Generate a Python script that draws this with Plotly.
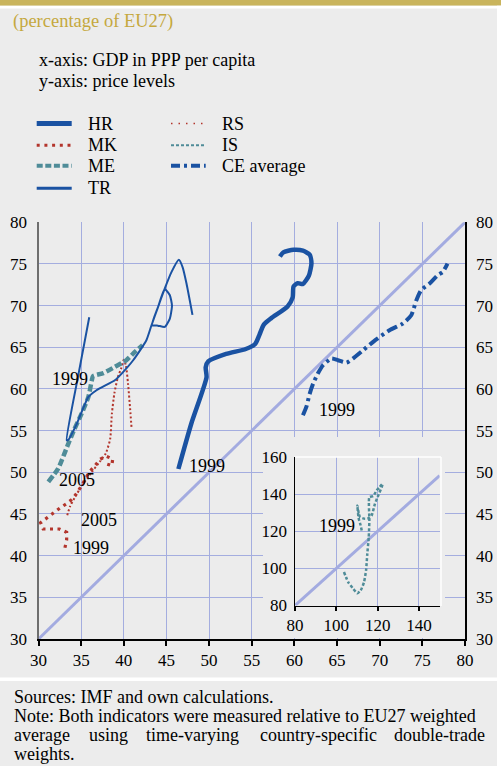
import plotly.graph_objects as go

W, H = 501, 766
FONT = "Liberation Serif, Tinos, Times New Roman, DejaVu Serif, serif"

# ---------------- data ----------------
diag_main = [30, 80]
diag_inset = [80, 150]

hr_x = [46.4, 47.9, 49.7, 49.6, 49.9, 52.0, 54.3, 55.4, 55.9, 56.4, 57.3, 59.2, 59.8, 59.9, 60.4, 61.0, 61.7, 62.0, 61.8, 61.0, 59.9, 58.7, 58.3]
hr_y = [50.4, 55.8, 61.4, 62.6, 63.3, 64.2, 64.8, 65.4, 66.5, 67.7, 68.5, 69.9, 71.0, 72.3, 72.7, 72.6, 73.6, 75.1, 76.1, 76.6, 76.7, 76.4, 75.9]

tr_x = [35.95, 34.6, 33.3, 33.5, 34.5, 35.85, 36.8, 38.95, 39.75, 41.1, 42.65, 43.25, 44.0, 44.8, 45.4, 45.65, 45.4, 44.8, 44.0, 43.3, 44.0, 44.8, 45.6, 46.45, 46.9, 47.35, 48.05]
tr_y = [68.6, 61.3, 53.85, 53.9, 55.85, 59.05, 59.85, 61.05, 61.85, 63.45, 65.85, 67.65, 69.8, 72.0, 71.25, 70.0, 68.45, 67.45, 67.6, 67.65, 69.8, 72.05, 74.05, 75.5, 74.6, 72.65, 68.9]

me_x = [31.15, 32.3, 33.5, 34.15, 35.05, 35.85, 36.25, 36.4, 37.6, 38.95, 40.3, 41.3, 42.2]
me_y = [48.85, 50.45, 53.45, 55.05, 57.05, 59.05, 61.05, 61.55, 61.9, 62.65, 63.45, 64.45, 65.25]

mk_x = [33.1, 33.3, 33.3, 32.45, 31.55, 30.55, 30.25, 31.05, 31.75, 32.5, 33.3, 34.0, 34.55, 35.2, 35.95, 36.6, 37.2, 37.9, 38.7, 38.6, 38.0]
mk_y = [40.95, 41.9, 42.8, 43.2, 43.2, 43.2, 43.95, 44.6, 45.15, 45.7, 46.25, 46.8, 47.6, 48.65, 50.05, 50.75, 51.55, 51.95, 51.6, 50.8, 51.0]

rs_x = [40.9, 40.75, 40.5, 40.25, 40.0, 39.7, 39.3, 38.9, 38.6, 38.4, 37.9, 37.2, 36.0, 34.9, 33.7, 33.3]
rs_y = [55.45, 57.5, 60.6, 62.8, 63.5, 62.5, 61.4, 59.5, 57.0, 54.0, 52.3, 51.3, 49.7, 48.1, 45.9, 44.6]

ce_x = [61.0, 61.4, 61.8, 62.2, 62.75, 63.35, 64.35, 65.1, 66.1, 66.85, 68.05, 69.6, 71.15, 72.7, 73.7, 74.3, 74.85, 75.85, 76.8, 77.4, 77.95]
ce_y = [56.85, 57.85, 59.45, 60.65, 61.85, 62.85, 63.65, 63.45, 63.15, 63.65, 64.65, 65.95, 67.05, 67.85, 68.85, 70.65, 71.85, 72.65, 73.65, 74.05, 75.05]

is_x = [112.3, 111.8, 110.8, 110.2, 110.9, 111.5, 113.9, 115.5, 117.1, 118.7, 120.3, 122.0, 122.4, 120.8, 119.5, 117.9, 116.0, 116.0, 115.7, 115.0, 114.4, 113.4, 111.8, 110.2, 108.2, 105.8, 103.7]
is_y = [120.4, 123.1, 127.0, 133.9, 129.5, 127.6, 126.7, 127.0, 128.5, 134.8, 139.3, 143.8, 145.6, 143.6, 142.0, 138.9, 138.4, 125.8, 116.8, 107.9, 98.9, 92.5, 88.1, 86.6, 89.0, 92.5, 98.0]

main_ticks = [30, 35, 40, 45, 50, 55, 60, 65, 70, 75, 80]
inset_xticks = [80, 100, 120, 140]
inset_yticks = [80, 100, 120, 140, 160]

# chart labels: (text, x, y, axes)
labels = [
    ("1999", 31.4, 61.2, "main"),
    ("1999", 47.35, 50.7, "main"),
    ("1999", 62.7, 57.45, "main"),
    ("2005", 32.2, 49.1, "main"),
    ("2005", 34.75, 44.3, "main"),
    ("1999", 33.8, 40.97, "main"),
    ("1999", 90.6, 123.1, "inset"),
]

# ---------------- styling ----------------
BG = "#ececec"
GRID = "#a4addf"
DIAG = "#a3abe0"
BLUE = "#1a52a2"
TEAL = "#4f8c98"
RED = "#b3352c"
GOLD_BAR = "#c9b45c"
GOLD_TXT = "#c5a83e"


def px(x):
    return x / W


def py(y):
    return 1 - y / H


fig = go.Figure()

fig.add_trace(go.Scatter(x=diag_main, y=diag_main, mode="lines",
                         line=dict(color=DIAG, width=3), xaxis="x", yaxis="y"))
fig.add_trace(go.Scatter(x=rs_x, y=rs_y, mode="lines",
                         line=dict(color=RED, width=2, dash="2px,2.2px", shape="spline", smoothing=0.6),
                         xaxis="x", yaxis="y"))
fig.add_trace(go.Scatter(x=mk_x, y=mk_y, mode="lines",
                         line=dict(color=RED, width=3.2, dash="3px,4.5px"),
                         xaxis="x", yaxis="y"))
fig.add_trace(go.Scatter(x=me_x, y=me_y, mode="lines",
                         line=dict(color=TEAL, width=4.5, dash="7px,3px", shape="spline", smoothing=0.6),
                         xaxis="x", yaxis="y"))
fig.add_trace(go.Scatter(x=tr_x, y=tr_y, mode="lines",
                         line=dict(color=BLUE, width=2, shape="spline", smoothing=0.5),
                         xaxis="x", yaxis="y"))
fig.add_trace(go.Scatter(x=hr_x, y=hr_y, mode="lines",
                         line=dict(color=BLUE, width=4.5, shape="spline", smoothing=0.6),
                         xaxis="x", yaxis="y"))
fig.add_trace(go.Scatter(x=ce_x, y=ce_y, mode="lines",
                         line=dict(color=BLUE, width=4, dash="11px,4px,3px,4px", shape="spline", smoothing=0.6),
                         xaxis="x", yaxis="y"))

fig.add_trace(go.Scatter(x=[None], y=[None], mode="lines", xaxis="x", yaxis="y2"))
fig.add_trace(go.Scatter(x=[None], y=[None], mode="lines", xaxis="x3", yaxis="y3"))

fig.add_trace(go.Scatter(x=diag_inset, y=diag_inset, mode="lines",
                         line=dict(color=DIAG, width=3), xaxis="x4", yaxis="y4"))
fig.add_trace(go.Scatter(x=is_x, y=is_y, mode="lines",
                         line=dict(color=TEAL, width=2.5, dash="3px,2px", shape="spline", smoothing=0.5),
                         xaxis="x4", yaxis="y4"))

tickfont = dict(family=FONT, size=17, color="black")

main_xdom = [px(38.5), px(465)]
main_ydom = [py(639), py(222.3)]

fig.update_layout(
    width=W, height=H, margin=dict(l=0, r=0, t=0, b=0, pad=0), autosize=False,
    paper_bgcolor=BG, plot_bgcolor=BG, showlegend=False,
    font=dict(family=FONT), hovermode=False,
    xaxis=dict(domain=main_xdom, range=[30, 80], anchor="y", tickvals=main_ticks, automargin=False,
               showgrid=True, gridcolor=GRID, gridwidth=1, zeroline=False,
               showline=True, linecolor="black", linewidth=1.5,
               ticks="outside", ticklen=5, tickwidth=2, tickcolor="black",
               tickfont=tickfont),
    yaxis=dict(domain=main_ydom, range=[30, 80], anchor="x", tickvals=main_ticks, automargin=False,
               showgrid=True, gridcolor=GRID, gridwidth=1, zeroline=False,
               showline=True, linecolor="#6e6e6e", linewidth=2,
               ticks="", tickfont=tickfont, ticklabelstandoff=6),
    yaxis2=dict(overlaying="y", side="right", range=[30, 80], anchor="x", tickvals=main_ticks, automargin=False,
                showgrid=False, zeroline=False, showline=True, linecolor="black", linewidth=1.5,
                ticks="", tickfont=tickfont, ticklabelstandoff=6),
    xaxis3=dict(domain=[px(263), px(445)], range=[0, 1], anchor="y3", visible=False, automargin=False),
    yaxis3=dict(domain=[py(638), py(437)], range=[0, 1], anchor="x3", visible=False, automargin=False),
    xaxis4=dict(domain=[px(295), px(439.6)], range=[80, 150], anchor="y4", tickvals=inset_xticks, automargin=False,
                showgrid=True, gridcolor=GRID, gridwidth=1, zeroline=False,
                showline=True, linecolor="black", linewidth=1.5,
                ticks="outside", ticklen=4, tickwidth=2, tickcolor="black", tickfont=tickfont),
    yaxis4=dict(domain=[py(605.5), py(457)], range=[80, 160], anchor="x4", tickvals=inset_yticks, automargin=False,
                showgrid=True, gridcolor=GRID, gridwidth=1, zeroline=False,
                showline=True, linecolor="black", linewidth=1.5,
                ticks="", tickfont=tickfont, ticklabelstandoff=3),
)

shapes = []
shapes.append(dict(type="rect", xref="paper", yref="paper", x0=0, x1=1, y0=py(5.7), y1=1,
                   fillcolor=GOLD_BAR, line=dict(width=0), layer="above"))
shapes.append(dict(type="rect", xref="paper", yref="paper", x0=0, x1=1, y0=py(8.5), y1=py(5.7),
                   fillcolor="white", line=dict(width=0), layer="above"))
shapes.append(dict(type="rect", xref="paper", yref="paper", x0=0, x1=1, y0=py(681), y1=py(677.5),
                   fillcolor="white", line=dict(width=0), layer="above"))
shapes.append(dict(type="rect", xref="paper", yref="paper", x0=px(497), x1=1, y0=0, y1=py(5.7),
                   fillcolor="white", line=dict(width=0), layer="above"))
shapes.append(dict(type="line", xref="paper", yref="paper", x0=px(295), x1=px(441), y0=py(457), y1=py(457),
                   line=dict(color="white", width=1.5)))
shapes.append(dict(type="line", xref="paper", yref="paper", x0=px(441), x1=px(441), y0=py(457), y1=py(606),
                   line=dict(color="white", width=1.5)))

leg = [
    (36.7, 71.7, 123.5, BLUE, 5, "solid"),
    (36.7, 71.7, 145.3, RED, 3, "3px,4.7px"),
    (36.7, 71.7, 165.7, TEAL, 4, "6px,2.6px"),
    (36.7, 71.7, 188.3, BLUE, 3, "solid"),
    (171.0, 205.7, 123.5, RED, 1.5, "1.5px,6px"),
    (171.0, 205.7, 145.3, TEAL, 2, "3px,2px"),
    (171.0, 205.7, 165.7, BLUE, 4, "9px,4px,3px,4px"),
]
for x0, x1, yy, col, wdt, dsh in leg:
    shapes.append(dict(type="line", xref="paper", yref="paper", x0=px(x0), x1=px(x1), y0=py(yy), y1=py(yy),
                       line=dict(color=col, width=wdt, dash=dsh)))
fig.update_layout(shapes=shapes)

ann = []


def txt(t, x, y, size=18, color="black", xanchor="left"):
    ann.append(dict(text=t, x=px(x), y=py(y), xref="paper", yref="paper", showarrow=False,
                    xanchor=xanchor, yanchor="middle", font=dict(family=FONT, size=size, color=color)))


txt("(percentage of EU27)", 10.7, 21.5, size=18.5, color=GOLD_TXT)
txt("x-axis: GDP in PPP per capita", 36.7, 60)
txt("y-axis: price levels", 36.7, 81)
for t, yy in [("HR", 124), ("MK", 145), ("ME", 166), ("TR", 188)]:
    txt(t, 86, yy)
for t, yy in [("RS", 124), ("IS", 145), ("CE average", 166)]:
    txt(t, 220, yy)

txt("Sources: IMF and own calculations.", 11.7, 696.5)
txt("Note: Both indicators were measured relative to EU27 weighted", 11.7, 715.5)
for w, xx in [("average", 11.7), ("using", 87), ("time-varying", 144), ("country-specific", 258)]:
    txt(w, xx, 735)
txt("double-trade", 486.7, 735, xanchor="right")
txt("weights.", 11.7, 753.5)

for t, x, y, ax in labels:
    xr, yr = ("x", "y") if ax == "main" else ("x4", "y4")
    ann.append(dict(text=t, x=x, y=y, xref=xr, yref=yr, showarrow=False, xanchor="left", yanchor="middle",
                    font=dict(family=FONT, size=18, color="black")))

fig.update_layout(annotations=ann)
fig.write_html("out.html", config={"displayModeBar": False, "staticPlot": True},
               post_script="document.body.style.margin='0';document.body.style.overflow='hidden';")
